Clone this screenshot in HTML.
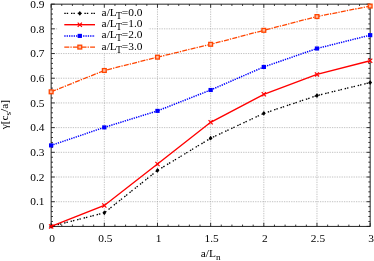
<!DOCTYPE html><html><head><meta charset="utf-8"><style>html,body{margin:0;padding:0;background:#fff;}body{width:374px;height:261px;overflow:hidden;}svg{display:block;will-change:transform;}text{font-family:"Liberation Serif",serif;fill:#000;}</style></head><body>
<svg width="374" height="261" viewBox="0 0 374 261">
<rect width="374" height="261" fill="#fff"/>
<path d="M104.32 4.15V226.4M157.48 4.15V226.4M210.65 4.15V226.4M263.82 4.15V226.4M316.98 4.15V226.4M51.15 201.71H370.15M51.15 177.01H370.15M51.15 152.32H370.15M51.15 127.62H370.15M51.15 102.93H370.15M51.15 78.23H370.15M51.15 53.54H370.15M51.15 28.84H370.15" stroke="#a2a2a2" stroke-width="0.65" stroke-dasharray="1.3,1.1" fill="none"/>
<rect x="57.6" y="4.6" width="91" height="48.3" fill="#fff"/>
<path d="M51.15 226.4v-3.6M51.15 4.15v3.6M61.78 226.4v-1.8M61.78 4.15v1.8M72.42 226.4v-1.8M72.42 4.15v1.8M83.05 226.4v-1.8M83.05 4.15v1.8M93.68 226.4v-1.8M93.68 4.15v1.8M104.32 226.4v-3.6M104.32 4.15v3.6M114.95 226.4v-1.8M114.95 4.15v1.8M125.58 226.4v-1.8M125.58 4.15v1.8M136.22 226.4v-1.8M136.22 4.15v1.8M146.85 226.4v-1.8M146.85 4.15v1.8M157.48 226.4v-3.6M157.48 4.15v3.6M168.12 226.4v-1.8M168.12 4.15v1.8M178.75 226.4v-1.8M178.75 4.15v1.8M189.38 226.4v-1.8M189.38 4.15v1.8M200.02 226.4v-1.8M200.02 4.15v1.8M210.65 226.4v-3.6M210.65 4.15v3.6M221.28 226.4v-1.8M221.28 4.15v1.8M231.92 226.4v-1.8M231.92 4.15v1.8M242.55 226.4v-1.8M242.55 4.15v1.8M253.18 226.4v-1.8M253.18 4.15v1.8M263.82 226.4v-3.6M263.82 4.15v3.6M274.45 226.4v-1.8M274.45 4.15v1.8M285.08 226.4v-1.8M285.08 4.15v1.8M295.72 226.4v-1.8M295.72 4.15v1.8M306.35 226.4v-1.8M306.35 4.15v1.8M316.98 226.4v-3.6M316.98 4.15v3.6M327.62 226.4v-1.8M327.62 4.15v1.8M338.25 226.4v-1.8M338.25 4.15v1.8M348.88 226.4v-1.8M348.88 4.15v1.8M359.52 226.4v-1.8M359.52 4.15v1.8M370.15 226.4v-3.6M370.15 4.15v3.6M51.15 226.40h3.6M370.15 226.40h-3.6M51.15 221.46h1.8M370.15 221.46h-1.8M51.15 216.52h1.8M370.15 216.52h-1.8M51.15 211.58h1.8M370.15 211.58h-1.8M51.15 206.64h1.8M370.15 206.64h-1.8M51.15 201.71h3.6M370.15 201.71h-3.6M51.15 196.77h1.8M370.15 196.77h-1.8M51.15 191.83h1.8M370.15 191.83h-1.8M51.15 186.89h1.8M370.15 186.89h-1.8M51.15 181.95h1.8M370.15 181.95h-1.8M51.15 177.01h3.6M370.15 177.01h-3.6M51.15 172.07h1.8M370.15 172.07h-1.8M51.15 167.13h1.8M370.15 167.13h-1.8M51.15 162.19h1.8M370.15 162.19h-1.8M51.15 157.26h1.8M370.15 157.26h-1.8M51.15 152.32h3.6M370.15 152.32h-3.6M51.15 147.38h1.8M370.15 147.38h-1.8M51.15 142.44h1.8M370.15 142.44h-1.8M51.15 137.50h1.8M370.15 137.50h-1.8M51.15 132.56h1.8M370.15 132.56h-1.8M51.15 127.62h3.6M370.15 127.62h-3.6M51.15 122.68h1.8M370.15 122.68h-1.8M51.15 117.74h1.8M370.15 117.74h-1.8M51.15 112.81h1.8M370.15 112.81h-1.8M51.15 107.87h1.8M370.15 107.87h-1.8M51.15 102.93h3.6M370.15 102.93h-3.6M51.15 97.99h1.8M370.15 97.99h-1.8M51.15 93.05h1.8M370.15 93.05h-1.8M51.15 88.11h1.8M370.15 88.11h-1.8M51.15 83.17h1.8M370.15 83.17h-1.8M51.15 78.23h3.6M370.15 78.23h-3.6M51.15 73.29h1.8M370.15 73.29h-1.8M51.15 68.36h1.8M370.15 68.36h-1.8M51.15 63.42h1.8M370.15 63.42h-1.8M51.15 58.48h1.8M370.15 58.48h-1.8M51.15 53.54h3.6M370.15 53.54h-3.6M51.15 48.60h1.8M370.15 48.60h-1.8M51.15 43.66h1.8M370.15 43.66h-1.8M51.15 38.72h1.8M370.15 38.72h-1.8M51.15 33.78h1.8M370.15 33.78h-1.8M51.15 28.84h3.6M370.15 28.84h-3.6M51.15 23.91h1.8M370.15 23.91h-1.8M51.15 18.97h1.8M370.15 18.97h-1.8M51.15 14.03h1.8M370.15 14.03h-1.8M51.15 9.09h1.8M370.15 9.09h-1.8M51.15 4.15h3.6M370.15 4.15h-3.6" stroke="#000" stroke-width="0.8" fill="none"/>
<rect x="51.15" y="4.15" width="319.00" height="222.25" fill="none" stroke="#1a1a1a" stroke-width="0.95"/>
<polyline points="51.15,226.40 104.32,212.82 157.48,170.44 210.65,138.22 263.82,113.37 316.98,95.57 370.15,82.60" fill="none" stroke="#000" stroke-width="1.3" stroke-dasharray="1.45,0.95,1.45,2.85"/>
<path d="M51.15 224.00L53.05 226.40L51.15 228.80L49.25 226.40Z" fill="#000"/>
<path d="M104.32 210.42L106.22 212.82L104.32 215.22L102.42 212.82Z" fill="#000"/>
<path d="M157.48 168.04L159.38 170.44L157.48 172.84L155.58 170.44Z" fill="#000"/>
<path d="M210.65 135.82L212.55 138.22L210.65 140.62L208.75 138.22Z" fill="#000"/>
<path d="M263.82 110.97L265.72 113.37L263.82 115.77L261.92 113.37Z" fill="#000"/>
<path d="M316.98 93.17L318.88 95.57L316.98 97.97L315.08 95.57Z" fill="#000"/>
<path d="M370.15 80.20L372.05 82.60L370.15 85.00L368.25 82.60Z" fill="#000"/>
<polyline points="51.15,226.40 104.32,205.51 157.48,164.05 210.65,122.26 263.82,94.28 316.98,74.41 370.15,60.70" fill="none" stroke="#ff0000" stroke-width="1.4"/>
<path d="M49.05 224.30L53.25 228.50M49.05 228.50L53.25 224.30" stroke="#ff0000" stroke-width="1.2" fill="none"/>
<path d="M102.22 203.41L106.42 207.61M102.22 207.61L106.42 203.41" stroke="#ff0000" stroke-width="1.2" fill="none"/>
<path d="M155.38 161.95L159.58 166.15M155.38 166.15L159.58 161.95" stroke="#ff0000" stroke-width="1.2" fill="none"/>
<path d="M208.55 120.16L212.75 124.36M208.55 124.36L212.75 120.16" stroke="#ff0000" stroke-width="1.2" fill="none"/>
<path d="M261.72 92.18L265.92 96.38M261.72 96.38L265.92 92.18" stroke="#ff0000" stroke-width="1.2" fill="none"/>
<path d="M314.88 72.31L319.08 76.51M314.88 76.51L319.08 72.31" stroke="#ff0000" stroke-width="1.2" fill="none"/>
<path d="M368.05 58.60L372.25 62.80M368.05 62.80L372.25 58.60" stroke="#ff0000" stroke-width="1.2" fill="none"/>
<polyline points="51.15,145.40 104.32,127.38 157.48,110.88 210.65,89.99 263.82,66.95 316.98,48.50 370.15,35.17" fill="none" stroke="#0000ff" stroke-width="1.5" stroke-dasharray="1.3,1.05"/>
<rect x="49.00" y="143.35" width="4.3" height="4.1" fill="#0000ff"/>
<rect x="102.17" y="125.33" width="4.3" height="4.1" fill="#0000ff"/>
<rect x="155.33" y="108.83" width="4.3" height="4.1" fill="#0000ff"/>
<rect x="208.50" y="87.94" width="4.3" height="4.1" fill="#0000ff"/>
<rect x="261.67" y="64.90" width="4.3" height="4.1" fill="#0000ff"/>
<rect x="314.83" y="46.45" width="4.3" height="4.1" fill="#0000ff"/>
<rect x="368.00" y="33.12" width="4.3" height="4.1" fill="#0000ff"/>
<polyline points="51.15,91.82 104.32,70.50 157.48,57.17 210.65,44.30 263.82,30.33 316.98,16.55 370.15,6.08" fill="none" stroke="#ff4500" stroke-width="1.3" stroke-dasharray="5.0,1.1,1.3,1.2"/>
<rect x="49.25" y="89.92" width="3.8" height="3.8" fill="#ffb89a" stroke="#ff4500" stroke-width="1.3"/>
<rect x="102.42" y="68.60" width="3.8" height="3.8" fill="#ffb89a" stroke="#ff4500" stroke-width="1.3"/>
<rect x="155.58" y="55.27" width="3.8" height="3.8" fill="#ffb89a" stroke="#ff4500" stroke-width="1.3"/>
<rect x="208.75" y="42.40" width="3.8" height="3.8" fill="#ffb89a" stroke="#ff4500" stroke-width="1.3"/>
<rect x="261.92" y="28.43" width="3.8" height="3.8" fill="#ffb89a" stroke="#ff4500" stroke-width="1.3"/>
<rect x="315.08" y="14.65" width="3.8" height="3.8" fill="#ffb89a" stroke="#ff4500" stroke-width="1.3"/>
<rect x="368.25" y="4.18" width="3.8" height="3.8" fill="#ffb89a" stroke="#ff4500" stroke-width="1.3"/>
<path d="M64.3 13.45H95" stroke="#000" stroke-width="1.3" stroke-dasharray="1.45,0.95,1.45,2.85" fill="none"/>
<path d="M79.80 11.05L81.70 13.45L79.80 15.85L77.90 13.45Z" fill="#000"/>
<text x="101.6" y="15.90" font-size="11.4">a/L<tspan font-size="9.8" dy="3" dx="-0.9">T</tspan><tspan dy="-3" dx="0">=0.0</tspan></text>
<path d="M64.3 24.7H95" stroke="#ff0000" stroke-width="1.4" fill="none"/>
<path d="M77.70 22.60L81.90 26.80M77.70 26.80L81.90 22.60" stroke="#ff0000" stroke-width="1.2" fill="none"/>
<text x="101.6" y="27.00" font-size="11.4">a/L<tspan font-size="9.8" dy="3" dx="-0.9">T</tspan><tspan dy="-3" dx="0">=1.0</tspan></text>
<path d="M64.3 35.9H95" stroke="#0000ff" stroke-width="1.5" stroke-dasharray="1.3,1.05" fill="none"/>
<rect x="77.65" y="33.85" width="4.3" height="4.1" fill="#0000ff"/>
<text x="101.6" y="38.30" font-size="11.4">a/L<tspan font-size="9.8" dy="3" dx="-0.9">T</tspan><tspan dy="-3" dx="0">=2.0</tspan></text>
<path d="M64.3 47.1H95" stroke="#ff4500" stroke-width="1.3" stroke-dasharray="5.0,1.1,1.3,1.2" fill="none"/>
<rect x="77.90" y="45.20" width="3.8" height="3.8" fill="#ffb89a" stroke="#ff4500" stroke-width="1.3"/>
<text x="101.6" y="49.50" font-size="11.4">a/L<tspan font-size="9.8" dy="3" dx="-0.9">T</tspan><tspan dy="-3" dx="0">=3.0</tspan></text>
<text x="44.5" y="230.10" font-size="11.4" text-anchor="end">0</text>
<text x="44.5" y="205.41" font-size="11.4" text-anchor="end">0.1</text>
<text x="44.5" y="180.71" font-size="11.4" text-anchor="end">0.2</text>
<text x="44.5" y="156.02" font-size="11.4" text-anchor="end">0.3</text>
<text x="44.5" y="131.32" font-size="11.4" text-anchor="end">0.4</text>
<text x="44.5" y="106.63" font-size="11.4" text-anchor="end">0.5</text>
<text x="44.5" y="81.93" font-size="11.4" text-anchor="end">0.6</text>
<text x="44.5" y="57.24" font-size="11.4" text-anchor="end">0.7</text>
<text x="44.5" y="32.54" font-size="11.4" text-anchor="end">0.8</text>
<text x="44.5" y="7.85" font-size="11.4" text-anchor="end">0.9</text>
<text x="52.15" y="241.7" font-size="11.4" text-anchor="middle">0</text>
<text x="105.32" y="241.7" font-size="11.4" text-anchor="middle">0.5</text>
<text x="158.48" y="241.7" font-size="11.4" text-anchor="middle">1</text>
<text x="211.65" y="241.7" font-size="11.4" text-anchor="middle">1.5</text>
<text x="264.82" y="241.7" font-size="11.4" text-anchor="middle">2</text>
<text x="317.98" y="241.7" font-size="11.4" text-anchor="middle">2.5</text>
<text x="371.15" y="241.7" font-size="11.4" text-anchor="middle">3</text>
<text x="200.8" y="257.2" font-size="11.4">a/L<tspan font-size="9.2" dy="3">n</tspan></text>
<text transform="translate(7.9,114.6) rotate(-90)" font-size="11.4" text-anchor="middle">γ[c<tspan font-size="9.2" dy="3">s</tspan><tspan dy="-3">/a]</tspan></text>
</svg></body></html>
